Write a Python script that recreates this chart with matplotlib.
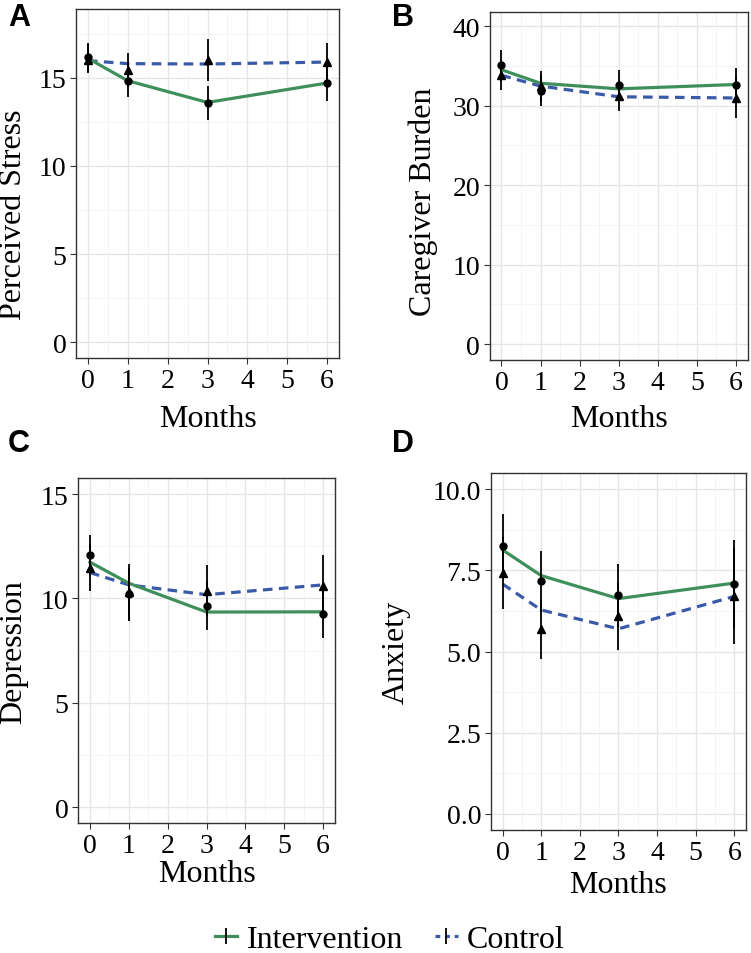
import numpy as np
import matplotlib
matplotlib.use("Agg")
import matplotlib.pyplot as plt
from matplotlib.lines import Line2D

plt.rcParams['font.family'] = ['Liberation Serif', 'DejaVu Serif']

months = [0, 1, 3, 6]

# A - Perceived Stress
a_int_fit = [16.1, 14.83, 13.6, 14.7]
a_ctl_fit = [15.97, 15.8, 15.78, 15.89]
a_int_mean = [16.16, 14.8, 13.55, 14.7]
a_int_lo = [15.3, 13.9, 12.6, 13.7]
a_int_hi = [17.0, 15.7, 14.55, 15.7]
a_ctl_mean = [16.0, 15.45, 16.03, 15.87]
a_ctl_lo = [15.27, 14.5, 14.8, 14.74]
a_ctl_hi = [16.9, 16.4, 17.2, 17.0]

# B - Caregiver Burden
b_int_fit = [34.5, 32.8, 32.1, 32.65]
b_ctl_fit = [33.8, 32.45, 31.1, 30.95]
b_int_mean = [35.04, 31.86, 32.6, 32.6]
b_int_lo = [33.0, 29.9, 30.7, 30.45]
b_int_hi = [37.0, 33.9, 34.5, 34.75]
b_ctl_mean = [33.8, 32.4, 31.2, 31.0]
b_ctl_lo = [31.9, 30.4, 29.3, 28.4]
b_ctl_hi = [35.7, 34.4, 33.1, 33.6]

# C - Depression
c_int_fit = [11.74, 10.73, 9.35, 9.36]
c_ctl_fit = [11.24, 10.65, 10.18, 10.65]
c_int_mean = [12.06, 10.19, 9.66, 9.28]
c_int_lo = [11.06, 8.92, 8.5, 8.13]
c_int_hi = [13.05, 11.46, 10.82, 10.43]
c_ctl_mean = [11.47, 10.3, 10.38, 10.62]
c_ctl_lo = [10.35, 8.94, 9.15, 9.18]
c_ctl_hi = [12.6, 11.66, 11.61, 12.06]

# D - Anxiety
d_int_fit = [8.13, 7.34, 6.63, 7.11]
d_ctl_fit = [7.08, 6.28, 5.70, 6.70]
d_int_mean = [8.24, 7.17, 6.73, 7.09]
d_int_lo = [7.24, 6.23, 5.76, 5.73]
d_int_hi = [9.24, 8.11, 7.70, 8.45]
d_ctl_mean = [7.43, 5.68, 6.08, 6.70]
d_ctl_lo = [6.32, 4.76, 5.04, 5.22]
d_ctl_hi = [8.54, 6.6, 7.12, 8.18]

GREEN = '#3f8f5c'
BLUE = '#3a5aa8'
DASH = (0, (3, 2))

fig = plt.figure(figsize=(7.51, 9.54), dpi=100)

panels = [
    dict(letter='A', pos=[0.1012, 0.6237, 0.3502, 0.3658], ylab='Perceived Stress',
         ylim=(-0.9, 18.9), yt=[0, 5, 10, 15], ytl=['0', '5', '10', '15'], ymin=[2.5, 7.5, 12.5, 17.5],
         ylc=(-0.236, 0.413), xlc=-0.172, lpos=(8, 26),
         d=(a_int_fit, a_ctl_fit, a_int_mean, a_int_lo, a_int_hi, a_ctl_mean, a_ctl_lo, a_ctl_hi)),
    dict(letter='B', pos=[0.6521, 0.6216, 0.3435, 0.3651], ylab='Caregiver Burden',
         ylim=(-1.99, 41.8), yt=[0, 10, 20, 30, 40], ytl=['0', '10', '20', '30', '40'], ymin=[5, 15, 25, 35],
         ylc=(-0.257, 0.457), xlc=-0.167, lpos=(392, 26),
         d=(b_int_fit, b_ctl_fit, b_int_mean, b_int_lo, b_int_hi, b_ctl_mean, b_ctl_lo, b_ctl_hi)),
    dict(letter='C', pos=[0.1043, 0.1363, 0.3414, 0.3612], ylab='Depression',
         ylim=(-0.75, 15.75), yt=[0, 5, 10, 15], ytl=['0', '5', '10', '15'], ymin=[2.5, 7.5, 12.5],
         ylc=(-0.251, 0.5), xlc=-0.147, lpos=(8, 452),
         d=(c_int_fit, c_ctl_fit, c_int_mean, c_int_lo, c_int_hi, c_ctl_mean, c_ctl_lo, c_ctl_hi)),
    dict(letter='D', pos=[0.6538, 0.1289, 0.3395, 0.3742], ylab='Anxiety',
         ylim=(-0.5, 10.5), yt=[0, 2.5, 5, 7.5, 10], ytl=['0.0', '2.5', '5.0', '7.5', '10.0'],
         ymin=[1.25, 3.75, 6.25, 8.75],
         ylc=(-0.37, 0.5), xlc=-0.153, lpos=(392, 452),
         d=(d_int_fit, d_ctl_fit, d_int_mean, d_int_lo, d_int_hi, d_ctl_mean, d_ctl_lo, d_ctl_hi)),
]

for p in panels:
    ax = fig.add_axes(p['pos'])
    int_fit, ctl_fit, im, ilo, ihi, cm, clo, chi = p['d']
    ax.set_xlim(-0.3, 6.3)
    ax.set_ylim(*p['ylim'])
    ax.set_xticks(range(7))
    ax.set_xticks(np.arange(0.5, 6, 1), minor=True)
    ax.set_yticks(p['yt'])
    ax.set_yticklabels(p['ytl'])
    ax.set_yticks(p['ymin'], minor=True)
    ax.grid(which='major', color='#e6e6e6', lw=1.0, zorder=0)
    ax.grid(which='minor', color='#f2f2f2', lw=0.6, zorder=0)
    ax.set_axisbelow(True)
    for s in ax.spines.values():
        s.set_color('#333333')
        s.set_linewidth(1.0)
    ax.tick_params(which='major', length=4, width=0.8, color='#333333', labelsize=20, pad=3)
    ax.tick_params(which='minor', length=0)

    ax.plot(months, ctl_fit, color=BLUE, lw=2.3, ls=DASH, zorder=3)
    ax.plot(months, int_fit, color=GREEN, lw=2.3, zorder=3)
    ax.vlines(months, ilo, ihi, color='black', lw=1.3, zorder=4)
    ax.vlines(months, clo, chi, color='black', lw=1.3, zorder=4)
    ax.plot(months, im, 'o', color='black', ms=5, zorder=5)
    ax.plot(months, cm, '^', color='black', ms=5.5, zorder=5)

    ax.set_ylabel(p['ylab'], fontsize=23)
    ax.yaxis.set_label_coords(*p['ylc'])
    ax.yaxis.label.set_va('center')
    ax.set_xlabel('Months', fontsize=23)
    ax.xaxis.set_label_coords(0.5, p['xlc'])
    ax.xaxis.label.set_va('center')

    fig.text(p['lpos'][0] / 751, 1 - p['lpos'][1] / 954, p['letter'], family='Liberation Sans',
             fontweight='bold', fontsize=22, ha='left', va='baseline')

h_int = (Line2D([], [], color=GREEN, lw=2.3),
         Line2D([], [], color='black', marker='|', ls='none', ms=12, mew=1.3))
h_ctl = (Line2D([], [], color=BLUE, lw=2.3, ls=(0, (1.5, 1.5))),
         Line2D([], [], color='black', marker='|', ls='none', ms=12, mew=1.3))
fig.legend([h_int, h_ctl], ['Intervention', 'Control'], loc='center',
           bbox_to_anchor=(390 / 751, 1 - 940 / 954), ncol=2, frameon=False, fontsize=23,
           handlelength=0.7, handletextpad=0.3, columnspacing=1.0)

fig.savefig('out.png', dpi=100)
